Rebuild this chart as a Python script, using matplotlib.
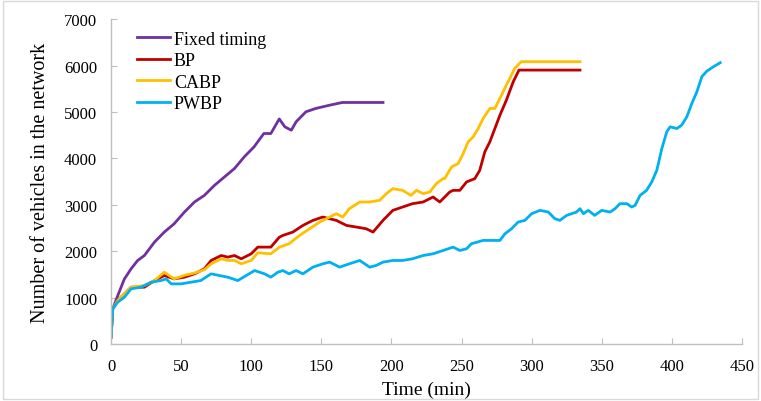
import matplotlib
matplotlib.use("Agg")
from matplotlib import pyplot as plt
from matplotlib.patches import Rectangle

plt.rcParams['font.family'] = ['Liberation Serif', 'DejaVu Serif']

# values (time in min, vehicles)
fixed_t = [0, 1.2, 4.8, 9.5, 14.3, 19, 23.8, 31, 38, 45, 52.4, 59.5, 66.6, 73.8, 80.9,
           88, 95, 102, 109, 114, 120, 124, 128.6, 132, 139, 146, 156, 165, 194]
fixed_v = [145, 755, 1043, 1400, 1620, 1800, 1907, 2196, 2412, 2590, 2844, 3060, 3203,
           3419, 3600, 3780, 4032, 4248, 4536, 4536, 4850, 4680, 4607, 4788, 5004, 5076,
           5147, 5205, 5205]

bp_t = [0, 1.2, 4.7, 11.9, 14.3, 23.8, 31, 38, 45, 52.4, 59.5, 66.6, 71.4, 78.6, 83.3,
        88, 92.9, 100, 104.7, 114, 120, 122.6, 129.7, 136.9, 144, 151, 160.7, 167.9, 175,
        182, 186.9, 194, 201, 208, 215, 222.6, 229.7, 234.5, 241.6, 244, 248.8, 253.6,
        259.5, 263, 266.6, 270.2, 273.8, 277.4, 282, 286.9, 291, 334.5]
bp_v = [145, 755, 935, 1151, 1224, 1224, 1367, 1475, 1404, 1440, 1512, 1620, 1800, 1907,
        1872, 1907, 1836, 1944, 2088, 2088, 2300, 2340, 2412, 2556, 2664, 2736, 2664,
        2556, 2520, 2484, 2412, 2664, 2880, 2952, 3024, 3060, 3168, 3060, 3276, 3311,
        3311, 3492, 3564, 3743, 4140, 4356, 4644, 4931, 5255, 5652, 5903, 5903]

cabp_t = [0, 1.2, 4.7, 11.9, 14.3, 23.8, 31, 38, 45, 52.4, 59.5, 66.6, 71.4, 78.6, 83.3,
          88, 92.9, 100, 104.7, 114, 120.2, 127, 134.5, 141.6, 148.8, 156, 160.7, 165.4,
          170, 177.4, 184.5, 191.6, 196.4, 201, 208, 214, 217.9, 222.6, 227.4, 232,
          236.9, 238, 242.9, 247.6, 251.2, 254.7, 258.3, 261.9, 265.4, 270.2, 273.8,
          277.4, 282, 288, 292.6, 334.5]
cabp_v = [145, 755, 935, 1151, 1224, 1260, 1367, 1548, 1404, 1480, 1530, 1600, 1728,
          1836, 1800, 1800, 1728, 1800, 1966, 1944, 2088, 2160, 2340, 2484, 2628, 2736,
          2808, 2736, 2916, 3060, 3060, 3096, 3240, 3348, 3311, 3203, 3311, 3240, 3276,
          3456, 3564, 3564, 3816, 3888, 4104, 4356, 4464, 4644, 4860, 5076, 5076, 5292,
          5580, 5940, 6084, 6084]

pwbp_t = [0, 1.2, 4.7, 9.5, 14.3, 21.4, 28.6, 35.7, 39.3, 42.9, 50, 57, 64, 71.4, 77.4,
          83.3, 90.4, 96.4, 102.4, 109.5, 114, 119, 122.6, 127, 132, 136.9, 144, 151,
          156, 163, 170, 177.4, 184.5, 189, 194, 201, 208, 215, 222.6, 229.7, 236.9,
          244, 248.8, 253.6, 257, 265.4, 270.2, 277.4, 281, 285.7, 290.4, 295.2, 300,
          306, 311.9, 316.6, 320.2, 325, 332, 334.5, 337, 340.4, 345, 350, 356, 359.5,
          363, 368, 371.4, 373.8, 377.4, 382, 385.7, 389.3, 392.9, 396.4, 398.8, 403.6,
          407, 410.7, 414.3, 417.9, 421.4, 425, 429.7, 434.5]
pwbp_v = [145, 755, 900, 1008, 1188, 1224, 1332, 1367, 1404, 1296, 1296, 1332, 1367,
          1512, 1475, 1440, 1367, 1475, 1583, 1512, 1440, 1548, 1583, 1512, 1583, 1512,
          1656, 1728, 1764, 1656, 1728, 1800, 1656, 1692, 1764, 1800, 1800, 1836, 1907,
          1944, 2016, 2088, 2016, 2052, 2160, 2232, 2232, 2232, 2376, 2484, 2628, 2664,
          2808, 2880, 2844, 2700, 2664, 2772, 2844, 2916, 2808, 2880, 2772, 2880, 2844,
          2916, 3024, 3024, 2952, 2988, 3203, 3311, 3492, 3743, 4212, 4572, 4680, 4644,
          4715, 4895, 5184, 5436, 5760, 5881, 5975, 6062]

series = [("Fixed timing", fixed_t, fixed_v, "#7030A0"),
          ("BP", bp_t, bp_v, "#C00000"),
          ("CABP", cabp_t, cabp_v, "#FFC000"),
          ("PWBP", pwbp_t, pwbp_v, "#00B0F0")]

fig = plt.figure(figsize=(7.61, 4.02), dpi=100)
ax = fig.add_axes([0.1459, 0.1418, 0.829, 0.808])

for name, t, v, c in series:
    ax.plot(t, v, color=c, lw=2.0, label=name)

ax.set_xlim(0, 450)
ax.set_ylim(0, 7000)
ax.set_xticks(range(0, 451, 50))
ax.set_yticks(range(0, 7001, 1000))
for s in ['top', 'right']:
    ax.spines[s].set_visible(False)
for s in ['left', 'bottom']:
    ax.spines[s].set_color('#bfbfbf')
    ax.spines[s].set_linewidth(1.0)
ax.tick_params(direction='in', length=4, color='#bfbfbf', labelsize=12, pad=10)
ax.set_xlabel("Time (min)", fontsize=14, labelpad=5)
ax.set_ylabel("Number of vehicles in the network", fontsize=14.5, labelpad=10)

ax.legend(loc='upper left', bbox_to_anchor=(0.041, 0.965), frameon=False, fontsize=13,
          handlelength=1.85, handletextpad=0.2, labelspacing=0.25, borderpad=0,
          borderaxespad=0)

fig.patches.append(Rectangle((0.004, 0.006), 0.992, 0.988, transform=fig.transFigure,
                             fill=False, edgecolor='#d9d9d9', lw=1.0))

fig.savefig("out.png", dpi=100)
